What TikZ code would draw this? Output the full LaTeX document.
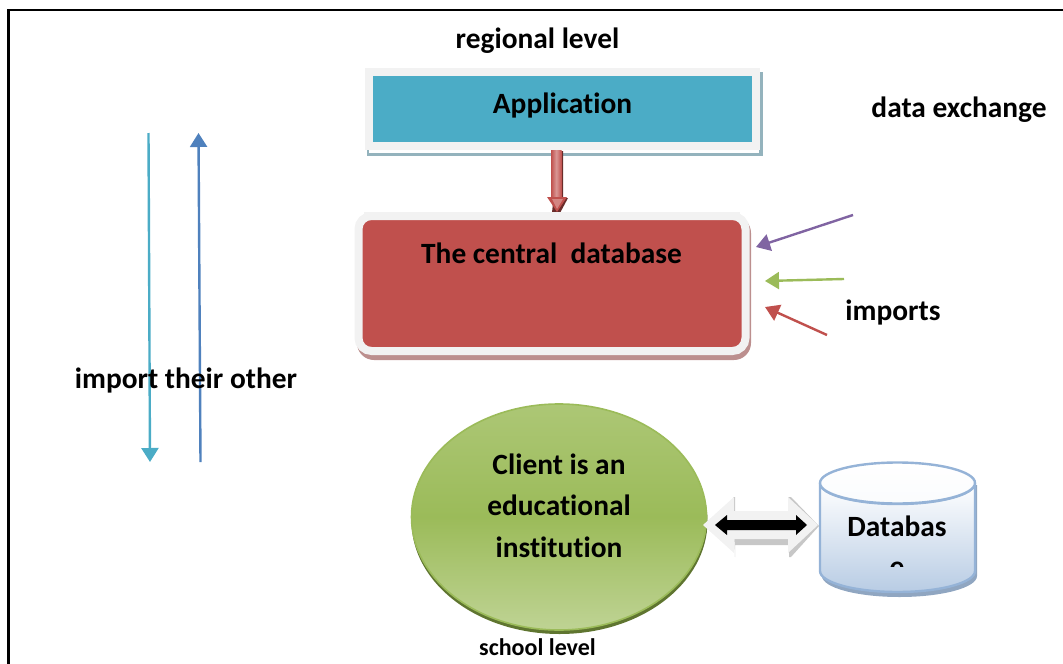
\documentclass[tikz,border=0pt]{standalone}
\usepackage{fontspec}
\setmainfont[RawFeature=-liga]{Carlito}
\usetikzlibrary{arrows.meta,shapes.geometric}
\definecolor{appfill}{HTML}{4BACC6}
\definecolor{appshadow}{HTML}{94B3BD}
\definecolor{paleedge}{HTML}{F2F2F2}
\definecolor{redfill}{HTML}{C0504D}
\definecolor{redshadow}{HTML}{BC8F8E}
\definecolor{greenfill}{HTML}{9BBB59}
\definecolor{greenlight}{HTML}{C3D69B}
\definecolor{greentop}{HTML}{B4CC82}
\definecolor{greendark}{HTML}{5F7530}
\definecolor{bluefill}{HTML}{4F81BD}
\definecolor{purplefill}{HTML}{8064A2}
\definecolor{cylblue}{HTML}{95B3D7}
\definecolor{cyldeep}{HTML}{B8CCE4}
\pgfdeclareverticalshading{clientshade}{100bp}{color(0bp)=(greenlight);color(22bp)=(greenlight);color(50bp)=(greenfill);color(86bp)=(greentop);color(100bp)=(greentop)}
\tikzset{
  x=1pt,y=-1pt,
  label text/.style={font=\fontsize{29.4}{34}\selectfont\bfseries,text=black,inner sep=0pt,align=center},
  small text/.style={font=\fontsize{24}{28}\selectfont\bfseries,text=black,inner sep=0pt},
  thin arrow/.style={line width=2.4pt,-{Triangle[length=14pt,width=17pt]}},
  app box/.style={rectangle,draw=paleedge,line width=8pt,fill=appfill,minimum width=387pt,minimum height=74pt,inner sep=0pt},
  central box/.style={rectangle,rounded corners=13pt,draw=paleedge,line width=8pt,fill=redfill,minimum width=387pt,minimum height=135pt,inner sep=0pt},
  client oval/.style={ellipse,draw=greenfill,line width=1.6pt,shading=clientshade,minimum width=295pt,minimum height=226pt,inner sep=0pt},
}
\begin{document}
\begin{tikzpicture}
\useasboundingbox (0,0) rectangle (1063,664);
% frame
\draw[line width=2.2pt,black] (8.5,664) -- (8.5,10) -- (1063,10);
% application shadow and box
\fill[appshadow] (367,72) rectangle (762.5,155.5);
\fill[white] (369,150) rectangle (759,152.5);
\node[app box] (app) at (562.5,109) {};
% central shadow and box
\fill[redshadow,rounded corners=17pt] (357,216) rectangle (751,360);
\node[central box] (central) at (552,283.5) {};
% red block arrow from application to central database
\fill[redfill!55!black] (558,151) -- (563,151) -- (563,198) -- (568,198) -- (560,213) -- (552,213) -- cycle;
\path[left color=redfill,right color=redfill,middle color=redfill!60!white] (551,150) rectangle (561.5,198);
\fill[redfill] (547,197) -- (567,197) -- (557,212) -- cycle;
\fill[redfill!70!white] (552,199) -- (563,199) -- (557,209) -- cycle;
\fill[paleedge] (364,212) rectangle (740,216);
% ellipse with shadow
\fill[greendark] (559.5,521) ellipse [x radius=148, y radius=113];
\node[client oval] (client) at (559,517) {};
% cylinder
\fill[cylblue!75!gray] (822,485) -- (822,576) arc[start angle=180,end angle=360,x radius=77.5,y radius=-21] -- (977,485) -- cycle;
\path[top color=white,bottom color=cyldeep,draw=cylblue,line width=2.4pt]
  (820,483) -- (820,571) arc[start angle=180,end angle=360,x radius=77.5,y radius=-21] -- (975,483) arc[start angle=0,end angle=180,x radius=77.5,y radius=21] -- cycle;
\path[top color=white,bottom color=white!93!cyldeep,draw=cylblue,line width=2.4pt]
  (897.5,483) ellipse [x radius=77.5, y radius=20.5];
% double block arrow between client and database
\fill[black!22] (733,497) -- (735,497) -- (735,539) -- (788,539) -- (788,497) -- (791,497) -- (819,526) -- (791,557) -- (789,557) -- (789,545) -- (735,545) -- (735,557) -- cycle;
\fill[paleedge] (703,525) -- (734,497) -- (734,511) -- (788,511) -- (788,497) -- (818,525) -- (788,553) -- (788,539) -- (734,539) -- (734,553) -- cycle;
\fill[black] (715,525) -- (727,515) -- (727,520) -- (796,520) -- (796,515) -- (807,525) -- (796,535) -- (796,530) -- (727,530) -- (727,535) -- cycle;
% left vertical arrows
\coordinate (tealtop) at (148.5,133);
\coordinate (tealbot) at (150,462);
\coordinate (bluetop) at (198.5,133);
\coordinate (bluebot) at (200.5,462);
\draw[thin arrow,appfill] (tealtop) -- (tealbot);
\draw[thin arrow,bluefill] (bluebot) -- (bluetop);
% import arrows
\coordinate (purplestart) at (853,215);
\coordinate (purpleend) at (756,247);
\coordinate (greenstart) at (844,279);
\coordinate (greenend) at (765,281);
\coordinate (redstart) at (827,335);
\coordinate (redend) at (765,307);
\draw[thin arrow,purplefill] (purplestart) -- (purpleend);
\draw[thin arrow,greenfill] (greenstart) -- (greenend);
\draw[thin arrow,redfill] (redstart) -- (redend);
% text
\node[label text] (regional) at (537.5,41) {regional level};
\node[label text] at (562.5,105.5) {Application};
\node[label text] (exchange) at (959,110) {data exchange};
\node[label text] at (551.5,253) {The central\ \ database};
\node[label text] (imports) at (893,312.5) {imports};
\node[label text] (other) at (186,380.5) {import their other};
\node[label text] at (559,464) {Client is an};
\node[label text] at (559,505) {educational};
\node[label text] at (559,547) {institution};
\node[small text] (school) at (537.5,647) {school level};
\node[label text] at (897,526.5) {Databas};
\begin{scope}
\clip (860,555) rectangle (935,566);
\node[label text] at (897,569) {e};
\end{scope}
\end{tikzpicture}
\end{document}
